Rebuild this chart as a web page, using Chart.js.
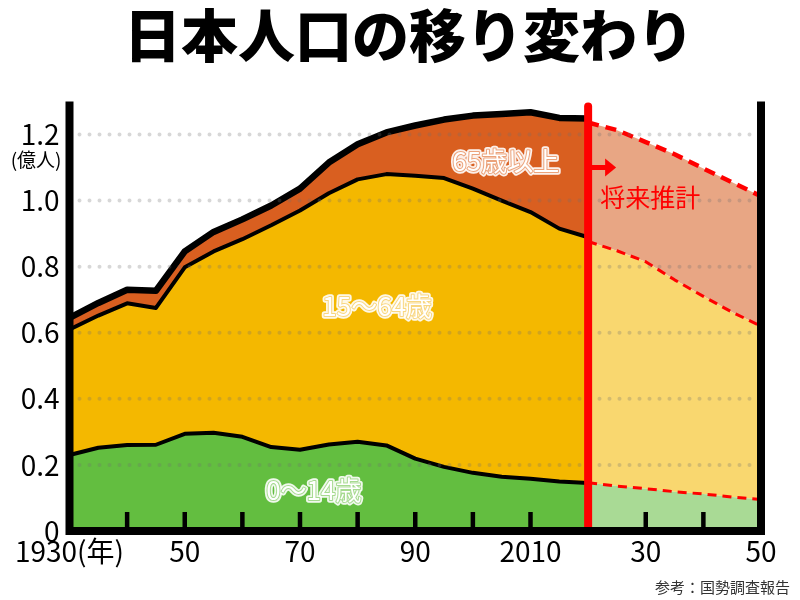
<!DOCTYPE html>
<html lang="ja">
<head>
<meta charset="utf-8">
<title>日本人口の移り変わり</title>
<script src="https://cdn.jsdelivr.net/npm/chart.js@4.4.1/dist/chart.umd.min.js"></script>
<style>
  html, body { margin: 0; padding: 0; background: #fff; }
  #wrap { width: 800px; height: 600px; }
</style>
</head>
<body>
<div id="wrap"><canvas id="popChart" width="800" height="600"></canvas></div>
<script>
// 実績（国勢調査） 単位: 億人
const years   = [1930, 1935, 1940, 1945, 1950, 1955, 1960, 1965, 1970, 1975, 1980, 1985, 1990, 1995, 2000, 2005, 2010, 2015, 2020];
const young   = [0.230, 0.252, 0.260, 0.261, 0.294, 0.297, 0.285, 0.254, 0.246, 0.262, 0.270, 0.259, 0.219, 0.194, 0.176, 0.164, 0.158, 0.150, 0.145];
const working = [0.380, 0.400, 0.429, 0.414, 0.504, 0.549, 0.598, 0.671, 0.724, 0.760, 0.794, 0.821, 0.856, 0.874, 0.860, 0.836, 0.807, 0.765, 0.744];
const elderly = [0.035, 0.038, 0.041, 0.052, 0.048, 0.059, 0.060, 0.060, 0.066, 0.093, 0.106, 0.126, 0.152, 0.177, 0.221, 0.262, 0.302, 0.335, 0.359];

// 将来推計
const projYears   = [2020, 2025, 2030, 2035, 2040, 2045, 2050];
const projYoung   = [0.146, 0.136, 0.128, 0.119, 0.112, 0.103, 0.095];
const projWorking = [0.730, 0.712, 0.687, 0.641, 0.598, 0.559, 0.525];
const projElderly = [0.360, 0.365, 0.362, 0.380, 0.387, 0.393, 0.393];

// 軸
const yTicks = [0, 0.2, 0.4, 0.6, 0.8, 1.0, 1.2];
const xLabelYears = [1930, 1950, 1970, 1990, 2010, 2030, 2050];
const xLabelTexts = ['1930(年)', '50', '70', '90', '2010', '30', '50'];
const xMinorTicks = [1940, 1950, 1960, 1970, 1980, 1990, 2000, 2010, 2020, 2030, 2040];
const estimateYear = 2020;

const FONT = "'Noto Sans CJK JP', 'Noto Sans', sans-serif";

const pts = (xs, ys) => xs.map((v, i) => ({ x: v, y: ys[i] }));

// 面の中の白抜き文字
function outlinedText(ctx, text, px, py, ring) {
    ctx.font = '26px ' + FONT;
    ctx.textAlign = 'center';
    ctx.textBaseline = 'middle';
    ctx.lineJoin = 'round';
    ctx.strokeStyle = 'rgba(255,255,255,0.9)';
    ctx.lineWidth = 5.5;
    ctx.strokeText(text, px, py);
    ctx.strokeStyle = ring;
    ctx.lineWidth = 2;
    ctx.strokeText(text, px, py);
    ctx.fillStyle = '#fff';
    ctx.fillText(text, px, py);
}

const overlay = {
    id: 'overlay',
    afterDatasetsDraw(chart) {
        const { ctx, chartArea: a, scales: { x, y } } = chart;
        ctx.save();

        // 点線の目盛線
        ctx.strokeStyle = 'rgba(110,110,110,0.28)';
        ctx.lineWidth = 4;
        ctx.lineCap = 'round';
        ctx.setLineDash([0, 10]);
        yTicks.filter(v => v > 0).forEach(v => {
            const py = y.getPixelForValue(v);
            ctx.beginPath();
            ctx.moveTo(a.left + 10, py);
            ctx.lineTo(a.right - 6, py);
            ctx.stroke();
        });
        ctx.setLineDash([]);

        // 下の目盛
        ctx.strokeStyle = '#000';
        ctx.lineWidth = 4.5;
        ctx.lineCap = 'butt';
        xMinorTicks.forEach(v => {
            const px = x.getPixelForValue(v);
            ctx.beginPath();
            ctx.moveTo(px, a.bottom);
            ctx.lineTo(px, a.bottom - 19);
            ctx.stroke();
        });

        // 推計の境目
        const ex = x.getPixelForValue(estimateYear);
        ctx.strokeStyle = '#ff0000';
        ctx.lineWidth = 8;
        ctx.lineCap = 'round';
        ctx.beginPath();
        ctx.moveTo(ex, a.top + 5);
        ctx.lineTo(ex, a.bottom);
        ctx.stroke();

        // 矢印
        const ay = y.getPixelForValue(1.1);
        ctx.lineCap = 'butt';
        ctx.lineWidth = 5;
        ctx.beginPath();
        ctx.moveTo(ex, ay);
        ctx.lineTo(ex + 18, ay);
        ctx.stroke();
        ctx.fillStyle = '#ff0000';
        ctx.beginPath();
        ctx.moveTo(ex + 17, ay - 9);
        ctx.lineTo(ex + 28, ay);
        ctx.lineTo(ex + 17, ay + 9);
        ctx.closePath();
        ctx.fill();

        ctx.font = '25px ' + FONT;
        ctx.textAlign = 'left';
        ctx.textBaseline = 'middle';
        ctx.fillText('将来推計', ex + 12, y.getPixelForValue(1.01));

        // 枠
        ctx.strokeStyle = '#000';
        ctx.lineWidth = 8;
        ctx.beginPath();
        ctx.moveTo(a.left - 4, a.bottom);
        ctx.lineTo(a.right + 4, a.bottom);
        ctx.moveTo(a.left, a.top);
        ctx.lineTo(a.left, a.bottom);
        ctx.moveTo(a.right, a.top);
        ctx.lineTo(a.right, a.bottom);
        ctx.stroke();

        // 面ラベル
        outlinedText(ctx, '65歳以上', x.getPixelForValue(2005.7), y.getPixelForValue(1.118), '#eba27a');
        outlinedText(ctx, '15〜64歳', x.getPixelForValue(1983.4), y.getPixelForValue(0.679), '#f8d680');
        outlinedText(ctx, '0〜14歳', x.getPixelForValue(1972.4), y.getPixelForValue(0.124), '#a6da90');

        // 単位・出典
        ctx.fillStyle = '#000';
        ctx.font = '19px ' + FONT;
        ctx.textAlign = 'right';
        ctx.fillText('(億人)', a.left - 8, y.getPixelForValue(1.122));
        ctx.fillStyle = '#333';
        ctx.font = '15px ' + FONT;
        ctx.fillText('参考：国勢調査報告', 790, 587);

        ctx.restore();
    }
};

new Chart(document.getElementById('popChart'), {
    type: 'line',
    data: {
        datasets: [
            { label: '0〜14歳', data: pts(years, young), stack: 'actual', fill: 'origin',
              backgroundColor: '#63be40', borderColor: '#000', borderWidth: 4 },
            { label: '15〜64歳', data: pts(years, working), stack: 'actual', fill: '-1',
              backgroundColor: '#f4b800', borderColor: '#000', borderWidth: 4 },
            { label: '65歳以上', data: pts(years, elderly), stack: 'actual', fill: '-1',
              backgroundColor: '#d95f20', borderColor: '#000', borderWidth: 6.5 },
            { label: '0〜14歳(推計)', data: pts(projYears, projYoung), stack: 'proj', fill: 'origin',
              backgroundColor: '#a9da95', borderColor: '#ff0000', borderWidth: 3, borderDash: [9, 6] },
            { label: '15〜64歳(推計)', data: pts(projYears, projWorking), stack: 'proj', fill: '-1',
              backgroundColor: '#f9d76f', borderColor: '#ff0000', borderWidth: 3, borderDash: [9, 6] },
            { label: '65歳以上(推計)', data: pts(projYears, projElderly), stack: 'proj', fill: '-1',
              backgroundColor: '#e8a684', borderColor: '#ff0000', borderWidth: 4.5, borderDash: [11, 7] }
        ]
    },
    options: {
        responsive: false,
        animation: false,
        devicePixelRatio: 1,
        elements: {
            point: { radius: 0, hoverRadius: 0 },
            line: { tension: 0, borderJoinStyle: 'round', borderCapStyle: 'butt' }
        },
        layout: { padding: { left: 18, right: 0, top: 0, bottom: 0 } },
        plugins: {
            legend: { display: false },
            tooltip: { enabled: false },
            title: {
                display: true,
                text: '日本人口の移り変わり',
                color: '#000',
                font: { family: FONT, size: 57, weight: '900', lineHeight: 1.2 },
                padding: { top: 1, bottom: 32 }
            }
        },
        scales: {
            x: {
                type: 'linear',
                min: 1930,
                max: 2050,
                grid: { display: false, drawTicks: false },
                border: { display: false },
                afterBuildTicks: s => { s.ticks = xLabelYears.map(v => ({ value: v })); },
                afterFit: s => { s.height = 69; },
                ticks: {
                    autoSkip: false,
                    maxRotation: 0,
                    padding: 4,
                    color: '#000',
                    font: { family: FONT, size: 28 },
                    callback: v => xLabelTexts[xLabelYears.indexOf(v)]
                }
            },
            y: {
                stacked: true,
                min: 0,
                max: 1.3,
                grid: { display: false, drawTicks: false },
                border: { display: false },
                afterBuildTicks: s => { s.ticks = yTicks.map(v => ({ value: v })); },
                afterFit: s => { s.width = 51.5; },
                ticks: {
                    padding: 10,
                    color: '#000',
                    font: { family: FONT, size: 28 },
                    callback: v => v === 0 ? '0' : v.toFixed(1)
                }
            },
            // 右側の余白用（目盛なし）
            yRight: {
                position: 'right',
                min: 0,
                max: 1.3,
                grid: { display: false, drawTicks: false },
                border: { display: false },
                ticks: { display: false },
                afterFit: s => { s.width = 39; }
            }
        }
    },
    plugins: [overlay]
});
</script>
</body>
</html>
